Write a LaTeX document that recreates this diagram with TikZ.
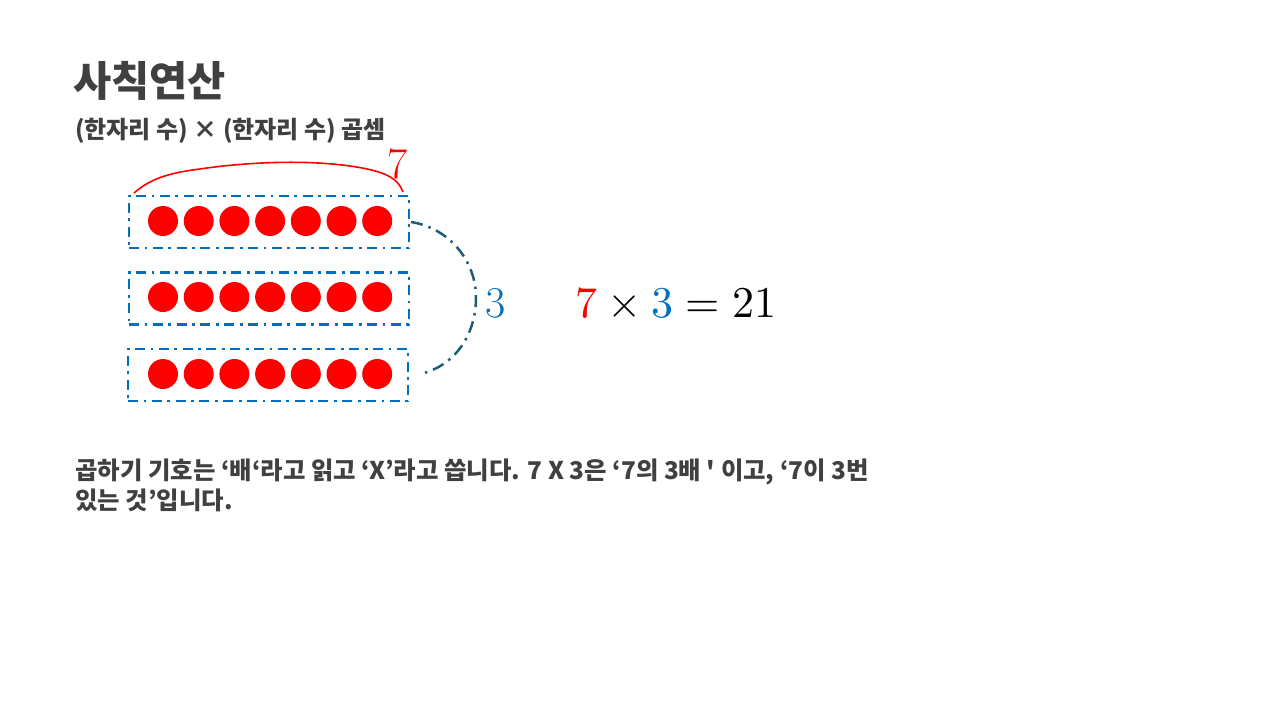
\documentclass[tikz,border=0pt]{standalone}
\usepackage{fontspec}
\usepackage{unicode-math}
\newfontfamily\kr{Noto Sans CJK KR}
\usepackage{xcolor}
\definecolor{txt}{HTML}{404040}
\definecolor{boxblue}{HTML}{0070C0}
\definecolor{arcteal}{HTML}{1F5C7A}
\definecolor{dotred}{HTML}{FF0000}
\begin{document}
\begin{tikzpicture}[x=1pt,y=-1pt,
  rowbox/.style={draw=boxblue, line width=2.8pt, dash pattern=on 10pt off 5.5pt on 2.8pt off 5.5pt,
    minimum width=280pt, minimum height=52pt, inner sep=0pt},
  dot/.style={circle, fill=dotred, minimum size=30pt, inner sep=0pt},
  krtext/.style={font=\kr\bfseries, text=txt, anchor=base west, inner sep=0pt},
  bignum/.style={font=\fontsize{44}{50}\selectfont, inner sep=0pt}]
\useasboundingbox (0,0) rectangle (1280,720);
% title
\node[krtext, font=\kr\bfseries\fontsize{41.5}{46}\selectfont] (title) at (73,96) {사칙연산};
\node[krtext, font=\kr\bfseries\fontsize{24}{27}\selectfont] (sub) at (75,138) {(한자리 수) × (한자리 수) 곱셈};
% boxes
\node[rowbox] (b1) at (269,222) {};
\node[rowbox] (b2) at (269,298.5) {};
\node[rowbox] (b3) at (268,375) {};
% dots
\foreach \r/\y in {1/221,2/297,3/374}{
  \foreach \i in {0,...,6}{
    \node[dot] (d\r-\i) at (163+35.7*\i,\y) {};
  }
}
% red brace
\coordinate (bl) at (134,193);
\coordinate (br) at (403,192);
\draw[dotred, line width=1.6pt] (bl) .. controls (150,179) and (168,173) .. (200,169)
  .. controls (240,163) and (300,159) .. (350,166)
  .. controls (385,171) and (398,178) .. (br);
\node[bignum, text=dotred] (seven) at (398,164) {7};
% right arc
\coordinate (a1) at (411,222);
\coordinate (a2) at (420,374);
\draw[arcteal, line width=2.5pt, dash pattern=on 12pt off 6pt on 2.5pt off 6pt]
  (a1) .. controls (450,228) and (476,262) .. (476,297)
  .. controls (476,338) and (452,367) .. (a2);
\node[bignum, text=boxblue] (three) at (496,303) {3};
% equation
\node[bignum, anchor=west] (eq) at (575,303) {$\textcolor{dotred}{7}\times\textcolor{boxblue}{3}=21$};
% bottom text
\node[krtext, font=\kr\bfseries\fontsize{24.4}{28}\selectfont] (l1) at (75,479) {곱하기 기호는 ‘배‘라고 읽고 ‘X’라고 씁니다. 7 X 3은 ‘7의 3배 ' 이고, ‘7이 3번};
\node[krtext, font=\kr\bfseries\fontsize{24.4}{28}\selectfont] (l2) at (75,509) {있는 것’입니다.};
\end{tikzpicture}
\end{document}
